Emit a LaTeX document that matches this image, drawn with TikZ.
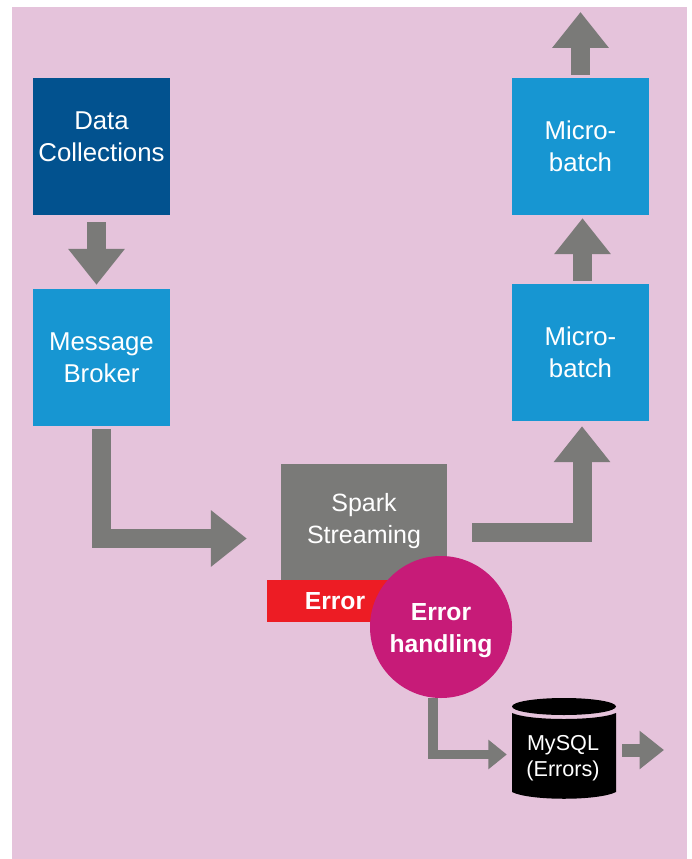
\documentclass[tikz,border=0pt]{standalone}
\usepackage{fontspec}
\setmainfont{Liberation Sans}
\usetikzlibrary{arrows.meta}
\definecolor{bgpink}{HTML}{E5C3DB}
\definecolor{navy}{HTML}{02528F}
\definecolor{sky}{HTML}{1796D2}
\definecolor{flowgray}{HTML}{7A7A78}
\definecolor{errred}{HTML}{ED1C24}
\definecolor{magent}{HTML}{C71B78}
\tikzset{
  box/.style={rectangle,inner sep=0pt,minimum width=137pt,minimum height=137pt,text=white,align=center,
    font=\fontsize{25.8}{32}\selectfont},
  flowbig/.style={draw=flowgray,line width=19pt,-{Triangle[length=36pt,width=54.5pt,fill=flowgray]}},
  flowsmall/.style={draw=flowgray,line width=9.5pt,-{Triangle[length=18.5pt,width=28.5pt,fill=flowgray]}},
  flowmid/.style={draw=flowgray,line width=13pt,-{Triangle[length=24.5pt,width=37pt,fill=flowgray]}}
}
\begin{document}
\begin{tikzpicture}[x=1pt,y=-1pt]
\useasboundingbox (0,0) rectangle (691,859);
\fill[bgpink] (12,7) rectangle (686.5,858.5);
\node[box,fill=navy] (data) at (101.5,146.5) {Data\\Collections\\[-12pt]};
\node[box,fill=sky] (broker) at (101.5,357.5) {Message\\Broker};
\node[box,fill=sky] (micro1) at (580.5,146.5) {Micro-\\batch};
\node[box,fill=sky] (micro2) at (580.5,352.5) {Micro-\\batch};
\node[box,fill=flowgray,minimum width=166pt,minimum height=116pt,font=\fontsize{25}{32}\selectfont] (spark) at (364,522) {Spark\\Streaming\\[-24pt]};
\node[rectangle,fill=errred,inner sep=0pt,minimum width=136pt,minimum height=42pt,text=white,font=\fontsize{24.7}{30}\selectfont\bfseries] (error) at (335,601) {Error};
\node[circle,fill=magent,inner sep=0pt,minimum size=142pt,text=white,align=center,font=\fontsize{24.7}{32}\selectfont\bfseries] (handling) at (441,627) {\rule{0pt}{24.5pt}Error\\handling};
% MySQL cylinder
\fill[black] (512,706.5) arc[start angle=180,end angle=540,x radius=52,y radius=8.5];
\fill[black] (512,713) .. controls (530,721) and (598,721) .. (616,713) -- (616,792) .. controls (598,801) and (530,801) .. (512,792) -- cycle;
\node[rectangle,inner sep=0pt,minimum width=104pt,minimum height=80pt,text=white,align=center,font=\fontsize{21.6}{26}\selectfont] (mysql) at (563,755) {\rule{0pt}{21.5pt}MySQL\\(Errors)};
\coordinate (out1) at (580.5,12);
\coordinate (out2) at (664,750);
% connectors
\draw[flowbig] ([xshift=-5pt,yshift=-7pt]data.south) -- ([xshift=-5pt,yshift=4pt]broker.north);
\draw[flowbig] ([yshift=-3pt]broker.south) -- (101.5,538.5) -- ([xshift=-34pt]spark.west |- 0,538.5);
\draw[flowbig] ([xshift=25pt]spark.east |- 0,532.5) -- (582,532.5) -- ([xshift=1.5pt,yshift=-5pt]micro2.south);
\draw[flowbig] ([xshift=2pt,yshift=3pt]micro2.north) -- ([xshift=2pt,yshift=-3pt]micro1.south);
\draw[flowbig] ([yshift=3pt]micro1.north) -- (out1);
\draw[flowsmall] (433,698) -- (433,754.5) -- ([xshift=-4pt]mysql.west |- 0,754.5);
\draw[flowmid] ([xshift=7pt]mysql.east |- 0,750) -- (out2);
\end{tikzpicture}
\end{document}
